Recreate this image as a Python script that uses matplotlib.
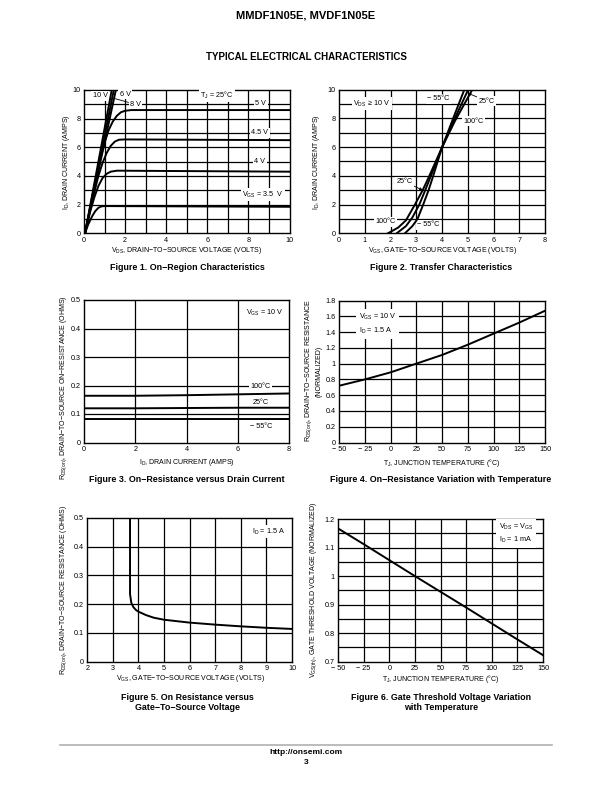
import matplotlib
matplotlib.use("Agg")
import matplotlib.pyplot as plt

plt.rcParams['font.family'] = ['Liberation Sans', 'DejaVu Sans']
plt.rcParams['mathtext.fontset'] = 'custom'
plt.rcParams['mathtext.rm'] = 'Liberation Sans'
plt.rcParams['mathtext.it'] = 'Liberation Sans'
plt.rcParams['mathtext.bf'] = 'Liberation Sans:bold'
plt.rcParams['mathtext.default'] = 'regular'

# ---------------- data ----------------
# Figure 1: On-region characteristics (VDS, ID) per VGS
f1_vds_35 = [0.05, 0.2, 0.4, 0.55, 0.7, 0.85, 1.0, 10]
f1_id_35 = [0, 0.6, 1.2, 1.55, 1.78, 1.88, 1.9, 1.85]
f1_vds_40 = [0.05, 0.3, 0.5, 0.7, 0.9, 1.1, 1.3, 1.6, 10]
f1_id_40 = [0, 1.5, 2.5, 3.3, 3.85, 4.15, 4.3, 4.37, 4.3]
f1_vds_45 = [0.05, 0.4, 0.7, 0.9, 1.1, 1.3, 1.5, 1.7, 2.0, 10]
f1_id_45 = [0, 2.3, 4.0, 4.9, 5.6, 6.1, 6.4, 6.53, 6.55, 6.5]
f1_vds_50 = [0.05, 0.5, 0.8, 1.0, 1.2, 1.4, 1.6, 1.8, 2.0, 2.3, 10]
f1_id_50 = [0, 3.3, 5.2, 6.3, 7.2, 7.8, 8.2, 8.45, 8.55, 8.6, 8.6]
f1_vds_60 = [0.05, 1.55]
f1_id_60 = [0, 10]
f1_vds_80 = [0.05, 1.45]
f1_id_80 = [0, 10]
f1_vds_100 = [0.05, 1.35]
f1_id_100 = [0, 10]

# Figure 2: Transfer characteristics
f2_vgs_100 = [1.9, 2.3, 2.6, 2.95, 3.25, 3.51, 4.0, 4.5, 5.18]
f2_id_100 = [0, 0.4, 0.9, 2.0, 3.0, 4.0, 5.97, 7.8, 10]
f2_vgs_25 = [2.24, 2.6, 2.85, 3.12, 3.35, 3.57, 4.0, 4.5, 5.02]
f2_id_25 = [0, 0.5, 1.1, 2.0, 3.0, 4.0, 5.97, 8.0, 10]
f2_vgs_m55 = [2.56, 2.85, 3.05, 3.27, 3.48, 3.66, 4.0, 4.5, 4.87]
f2_id_m55 = [0, 0.5, 1.0, 2.0, 3.0, 4.0, 5.97, 8.3, 10]

# Figure 3: On-resistance vs drain current
f3_id = [0, 2, 4, 6, 8]
f3_r_100 = [0.164, 0.164, 0.166, 0.169, 0.172]
f3_r_25 = [0.120, 0.120, 0.121, 0.122, 0.122]
f3_r_m55 = [0.083, 0.083, 0.083, 0.083, 0.083]

# Figure 4: normalized RDS(on) vs temperature
f4_tj = [-50, -25, 0, 25, 50, 75, 100, 125, 150]
f4_r = [0.72, 0.80, 0.89, 1.0, 1.11, 1.24, 1.38, 1.52, 1.67]

# Figure 5: RDS(on) vs VGS
f5_vgs = [3.67, 3.67, 3.72, 3.8, 3.9, 4.0, 4.3, 4.6, 5, 6, 7, 8, 9, 10]
f5_r = [0.5, 0.235, 0.205, 0.19, 0.18, 0.174, 0.162, 0.153, 0.146, 0.136, 0.129, 0.123, 0.118, 0.114]

# Figure 6: normalized gate threshold vs temperature
f6_tj = [-50, -25, 0, 25, 50, 75, 100, 125, 150]
f6_v = [1.167, 1.112, 1.056, 1.0, 0.945, 0.89, 0.834, 0.778, 0.723]

# tick labels
f1_xticks = [0, 2, 4, 6, 8, 10]
f1_yticks = [0, 2, 4, 6, 8, 10]
f2_xticks = [0, 1, 2, 3, 4, 5, 6, 7, 8]
f2_yticks = [0, 2, 4, 6, 8, 10]
f3_xticks = [0, 2, 4, 6, 8]
f3_yticks = [0, 0.1, 0.2, 0.3, 0.4, 0.5]
f3_yticklabels = ["0", "0.1", "0.2", "0.3", "0.4", "0.5"]
temp_ticks = [-50, -25, 0, 25, 50, 75, 100, 125, 150]
temp_ticklabels = ["\u2212 50", "\u2212 25", "0", "25", "50", "75", "100", "125", "150"]
f4_yticks = [0, 0.2, 0.4, 0.6, 0.8, 1.0, 1.2, 1.4, 1.6, 1.8]
f4_yticklabels = ["0", "0.2", "0.4", "0.6", "0.8", "1", "1.2", "1.4", "1.6", "1.8"]
f5_xticks = [2, 3, 4, 5, 6, 7, 8, 9, 10]
f5_yticks = [0, 0.1, 0.2, 0.3, 0.4, 0.5]
f5_yticklabels = ["0", "0.1", "0.2", "0.3", "0.4", "0.5"]
f6_yticks = [0.7, 0.8, 0.9, 1.0, 1.1, 1.2]
f6_yticklabels = ["0.7", "0.8", "0.9", "1", "1.1", "1.2"]

# ---------------- layout ----------------
W, H = 612, 792
fig = plt.figure(figsize=(W / 100, H / 100), dpi=100)
fig.patch.set_facecolor('white')

TICK_FS = 5.2
LAB_FS = 5.0
ANN_FS = 5.2
CAP_FS = 6.4
LW = 1.4
GRID_LW = 0.9


def make_ax(l, t, r, b):
    ax = fig.add_axes([l / W, 1 - b / H, (r - l) / W, (b - t) / H])
    ax.set_axisbelow(True)
    for s in ax.spines.values():
        s.set_linewidth(1.0)
        s.set_color('black')
    ax.tick_params(length=0, labelsize=TICK_FS, pad=2.5)
    return ax


def grid(ax, xs, ys):
    for x in xs:
        ax.axvline(x, color='black', lw=GRID_LW, zorder=0.5)
    for y in ys:
        ax.axhline(y, color='black', lw=GRID_LW, zorder=0.5)


def ftext(x, y, s, **kw):
    kw.setdefault('ha', 'center')
    kw.setdefault('va', 'center')
    fig.text(x / W, 1 - y / H, s, **kw)


WB = dict(facecolor='white', edgecolor='none', pad=1.0)

# ---- Figure 1 ----
ax1 = make_ax(84, 90, 289.5, 233.3)
ax1.set_xlim(0, 10)
ax1.set_ylim(0, 10)
grid(ax1, range(1, 10), range(1, 10))
ax1.set_xticks(f1_xticks)
ax1.set_yticks(f1_yticks)
for xs, ys in [(f1_vds_35, f1_id_35), (f1_vds_40, f1_id_40), (f1_vds_45, f1_id_45),
               (f1_vds_50, f1_id_50), (f1_vds_60, f1_id_60), (f1_vds_80, f1_id_80),
               (f1_vds_100, f1_id_100)]:
    ax1.plot(xs, ys, color='black', lw=LW, clip_on=True, zorder=4)
ax1.text(0.78, 9.6, "10 V", fontsize=ANN_FS, ha='center', va='center', bbox=WB, zorder=3)
ax1.text(2.0, 9.7, "6 V", fontsize=ANN_FS, ha='center', va='center', bbox=WB, zorder=3)
ax1.annotate("8 V", xy=(1.5, 9.4), xytext=(2.5, 9.0), fontsize=ANN_FS, ha='center', va='center',
             bbox=WB, zorder=3, arrowprops=dict(arrowstyle='-', lw=0.6, color='black', shrinkA=0, shrinkB=0))
ax1.text(6.47, 9.65, "T$_J$ = 25°C", fontsize=ANN_FS, ha='center', va='center', bbox=WB, zorder=3)
ax1.text(8.6, 9.05, "5 V", fontsize=ANN_FS, ha='center', va='center', bbox=WB, zorder=3)
ax1.text(8.55, 7.0, "4.5 V", fontsize=ANN_FS, ha='center', va='center', bbox=WB, zorder=3)
ax1.text(8.55, 5.0, "4 V", fontsize=ANN_FS, ha='center', va='center', bbox=WB, zorder=3)
ax1.text(8.7, 2.7, "V$_{GS}$ = 3.5  V", fontsize=ANN_FS, ha='center', va='center', bbox=WB, zorder=3)
ftext(187, 250, "V$_{DS}$, DRAIN\u2212TO\u2212SOURCE VOLTAGE (VOLTS)", fontsize=LAB_FS)
ftext(66, 162, "I$_D$, DRAIN CURRENT (AMPS)", fontsize=LAB_FS, rotation=90)
ftext(187, 268, "Figure 1. On\u2212Region Characteristics", fontsize=CAP_FS, fontweight='bold')

# ---- Figure 2 ----
ax2 = make_ax(339, 89.5, 545, 233.3)
ax2.set_xlim(0, 8)
ax2.set_ylim(0, 10)
grid(ax2, range(1, 8), range(1, 10))
ax2.set_xticks(f2_xticks)
ax2.set_yticks(f2_yticks)
for xs, ys in [(f2_vgs_100, f2_id_100), (f2_vgs_25, f2_id_25), (f2_vgs_m55, f2_id_m55)]:
    ax2.plot(xs, ys, color='black', lw=LW, zorder=4)
ax2.text(1.27, 9.0, "V$_{DS}$ \u2265 10 V", fontsize=ANN_FS, ha='center', va='center', bbox=WB, zorder=3)
ax2.text(3.86, 9.35, "\u2212 55°C", fontsize=ANN_FS, ha='center', va='center', bbox=WB, zorder=3)
ax2.annotate("25°C", xy=(5.0, 9.75), xytext=(5.73, 9.2), fontsize=ANN_FS, ha='center', va='center',
             bbox=WB, zorder=3, arrowprops=dict(arrowstyle='-|>', lw=0.6, color='black', mutation_scale=4,
                                                shrinkA=0, shrinkB=0))
ax2.text(5.22, 7.8, "100°C", fontsize=ANN_FS, ha='center', va='center', bbox=WB, zorder=3)
ax2.annotate("25°C", xy=(3.25, 3.0), xytext=(2.56, 3.58), fontsize=ANN_FS, ha='center', va='center',
             bbox=WB, zorder=3, arrowprops=dict(arrowstyle='-|>', lw=0.6, color='black', mutation_scale=4,
                                                shrinkA=0, shrinkB=0))
ax2.text(1.79, 0.8, "100°C", fontsize=ANN_FS, ha='center', va='center', bbox=WB, zorder=3)
ax2.text(3.47, 0.58, "\u2212 55°C", fontsize=ANN_FS, ha='center', va='center', bbox=WB, zorder=3)
ftext(442, 250, "V$_{GS}$, GATE\u2212TO\u2212SOURCE VOLTAGE (VOLTS)", fontsize=LAB_FS)
ftext(316, 162, "I$_D$, DRAIN CURRENT (AMPS)", fontsize=LAB_FS, rotation=90)
ftext(441, 268, "Figure 2. Transfer Characteristics", fontsize=CAP_FS, fontweight='bold')

# ---- Figure 3 ----
ax3 = make_ax(84, 300, 289, 442.5)
ax3.set_xlim(0, 8)
ax3.set_ylim(0, 0.5)
grid(ax3, [2, 4, 6], [0.1, 0.2, 0.3, 0.4])
ax3.set_xticks(f3_xticks)
ax3.set_yticks(f3_yticks)
ax3.set_yticklabels(f3_yticklabels)
for ys in [f3_r_100, f3_r_25, f3_r_m55]:
    ax3.plot(f3_id, ys, color='black', lw=LW, zorder=4)
ax3.text(7.07, 0.453, "V$_{GS}$ = 10 V", fontsize=ANN_FS, ha='center', va='center', bbox=WB, zorder=3)
ax3.text(6.9, 0.197, "100°C", fontsize=ANN_FS, ha='center', va='center', bbox=WB, zorder=3)
ax3.text(6.9, 0.14, "25°C", fontsize=ANN_FS, ha='center', va='center', bbox=WB, zorder=3)
ax3.text(6.9, 0.057, "\u2212 55°C", fontsize=ANN_FS, ha='center', va='center', bbox=WB, zorder=3)
ftext(187, 462, "I$_D$, DRAIN CURRENT (AMPS)", fontsize=LAB_FS)
ftext(64, 388, "R$_{DS(on)}$, DRAIN\u2212TO\u2212SOURCE ON\u2212RESISTANCE (OHMS)", fontsize=LAB_FS, rotation=90)
ftext(187, 480, "Figure 3. On\u2212Resistance versus Drain Current", fontsize=CAP_FS, fontweight='bold')

# ---- Figure 4 ----
ax4 = make_ax(339.3, 300.5, 545, 442.5)
ax4.set_xlim(-50, 150)
ax4.set_ylim(0, 1.8)
grid(ax4, [-25, 0, 25, 50, 75, 100, 125], [0.2, 0.4, 0.6, 0.8, 1.0, 1.2, 1.4, 1.6])
ax4.set_xticks(temp_ticks)
ax4.set_xticklabels(temp_ticklabels)
ax4.set_yticks(f4_yticks)
ax4.set_yticklabels(f4_yticklabels)
ax4.plot(f4_tj, f4_r, color='black', lw=LW, zorder=4)
ax4.text(-31, 1.5, "V$_{GS}$ = 10 V\nI$_D$ = 1.5 A", fontsize=ANN_FS, ha='left', va='center',
         linespacing=1.5, bbox=dict(facecolor='white', edgecolor='none', pad=2.0), zorder=3)
ftext(442, 463, "T$_J$, JUNCTION TEMPERATURE (°C)", fontsize=LAB_FS)
ftext(309, 371, "R$_{DS(on)}$, DRAIN\u2212TO\u2212SOURCE RESISTANCE", fontsize=LAB_FS, rotation=90)
ftext(319, 371, "(NORMALIZED)", fontsize=LAB_FS, rotation=90)
ftext(441, 480, "Figure 4. On\u2212Resistance Variation with Temperature", fontsize=CAP_FS, fontweight='bold')

# ---- Figure 5 ----
ax5 = make_ax(87.3, 518, 292, 661.7)
ax5.set_xlim(2, 10)
ax5.set_ylim(0, 0.5)
grid(ax5, range(3, 10), [0.1, 0.2, 0.3, 0.4])
ax5.set_xticks(f5_xticks)
ax5.set_yticks(f5_yticks)
ax5.set_yticklabels(f5_yticklabels)
ax5.plot(f5_vgs, f5_r, color='black', lw=LW, zorder=4)
ax5.text(9.07, 0.453, "I$_D$ = 1.5 A", fontsize=ANN_FS, ha='center', va='center', bbox=WB, zorder=3)
ftext(190, 679, "V$_{GS}$, GATE\u2212TO\u2212SOURCE VOLTAGE (VOLTS)", fontsize=LAB_FS)
ftext(64, 590, "R$_{DS(on)}$, DRAIN\u2212TO\u2212SOURCE RESISTANCE (OHMS)", fontsize=LAB_FS, rotation=90)
ftext(187, 697, "Figure 5. On Resistance versus", fontsize=CAP_FS, fontweight='bold')
ftext(187, 708, "Gate\u2212To\u2212Source Voltage", fontsize=CAP_FS, fontweight='bold')

# ---- Figure 6 ----
ax6 = make_ax(338, 519, 543, 661.7)
ax6.set_xlim(-50, 150)
ax6.set_ylim(0.7, 1.2)
grid(ax6, [-25, 0, 25, 50, 75, 100, 125],
     [0.75, 0.8, 0.85, 0.9, 0.95, 1.0, 1.05, 1.1, 1.15])
ax6.set_xticks(temp_ticks)
ax6.set_xticklabels(temp_ticklabels)
ax6.set_yticks(f6_yticks)
ax6.set_yticklabels(f6_yticklabels)
ax6.plot(f6_tj, f6_v, color='black', lw=LW, zorder=4)
ax6.text(107, 1.15, "V$_{DS}$ = V$_{GS}$\nI$_D$ = 1 mA", fontsize=ANN_FS, ha='left', va='center',
         linespacing=1.4, bbox=dict(facecolor='white', edgecolor='none', pad=2.0), zorder=3)
ftext(441, 679, "T$_J$, JUNCTION TEMPERATURE (°C)", fontsize=LAB_FS)
ftext(314, 590, "V$_{GS(th)}$, GATE THRESHOLD VOLTAGE (NORMALIZED)", fontsize=LAB_FS, rotation=90)
ftext(441, 697, "Figure 6. Gate Threshold Voltage Variation", fontsize=CAP_FS, fontweight='bold')
ftext(441, 708, "with Temperature", fontsize=CAP_FS, fontweight='bold')

# ---- page header / footer ----
ftext(306, 15, "MMDF1N05E, MVDF1N05E", fontsize=8, fontweight='bold')
ftext(306, 57, "TYPICAL ELECTRICAL CHARACTERISTICS", fontsize=7, fontweight='bold')
fig.add_artist(plt.Line2D([60 / W, 552 / W], [1 - 745 / H, 1 - 745 / H], color='#b0b0b0', lw=1.2))
ftext(306, 752, "http://onsemi.com", fontsize=6, fontweight='bold')
ftext(306, 763, "3", fontsize=6, fontweight='bold')

fig.savefig("out.png", dpi=100, facecolor='white')
